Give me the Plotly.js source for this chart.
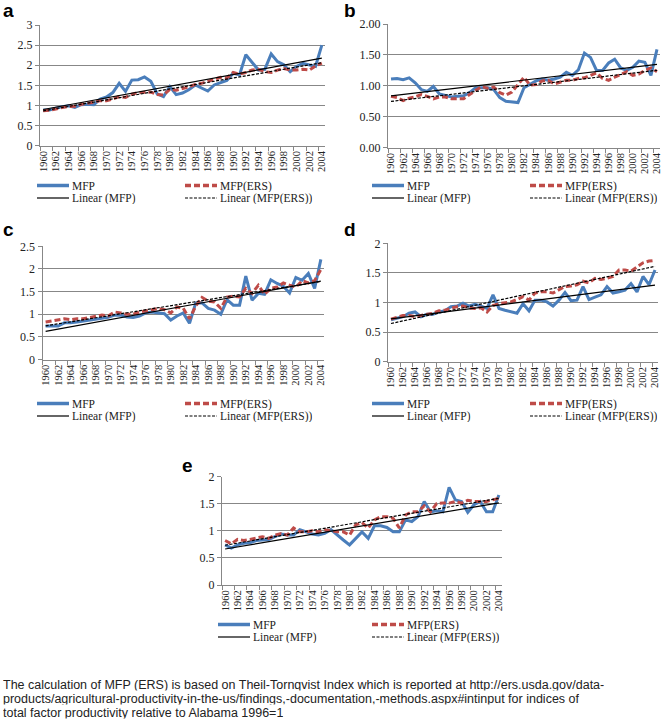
<!DOCTYPE html>
<html><head><meta charset="utf-8">
<script src="https://cdn.plot.ly/plotly-3.0.1.min.js"></script>
<style>html,body{margin:0;padding:0;background:#fff;}#chart{width:661px;height:719px;}</style>
</head><body><div id="chart"></div>
<script>
const years = ["1960","1961","1962","1963","1964","1965","1966","1967","1968","1969","1970","1971","1972","1973","1974","1975","1976","1977","1978","1979","1980","1981","1982","1983","1984","1985","1986","1987","1988","1989","1990","1991","1992","1993","1994","1995","1996","1997","1998","1999","2000","2001","2002","2003","2004"];

const mfpA = [0.89,0.89,0.93,0.97,0.99,0.95,1.02,1.03,1.02,1.16,1.21,1.32,1.55,1.35,1.63,1.64,1.71,1.60,1.29,1.22,1.47,1.27,1.31,1.39,1.51,1.43,1.36,1.51,1.57,1.62,1.80,1.76,2.26,2.07,1.88,1.90,2.28,2.09,2.01,1.84,1.97,2.05,2.01,1.97,2.50];
const ersA = [0.87,0.88,0.91,0.95,0.97,0.98,1.03,1.05,1.08,1.12,1.12,1.16,1.22,1.20,1.28,1.32,1.33,1.33,1.27,1.26,1.40,1.38,1.42,1.46,1.52,1.55,1.60,1.65,1.70,1.68,1.82,1.78,1.82,1.88,1.90,1.84,1.82,1.88,1.92,1.88,1.88,1.90,1.88,1.98,2.05];

const mfpB = [1.11,1.12,1.10,1.13,1.05,0.94,0.91,0.99,0.87,0.84,0.82,0.83,0.84,0.89,0.97,0.97,0.97,0.94,0.81,0.75,0.74,0.73,0.97,1.03,1.08,1.11,1.09,1.11,1.14,1.22,1.17,1.26,1.53,1.46,1.25,1.25,1.37,1.43,1.29,1.25,1.30,1.40,1.38,1.17,1.59];
const ersB = [0.83,0.81,0.76,0.80,0.82,0.86,0.83,0.79,0.82,0.82,0.79,0.79,0.79,0.86,0.92,0.99,0.96,0.98,0.89,0.85,0.90,1.02,1.14,1.01,1.02,1.08,1.09,1.03,1.06,1.09,1.09,1.12,1.13,1.17,1.21,1.12,1.09,1.14,1.18,1.23,1.17,1.19,1.25,1.29,1.23];

const mfpC = [0.74,0.74,0.74,0.81,0.81,0.83,0.85,0.87,0.88,0.90,0.93,0.98,0.98,0.94,0.93,0.96,1.03,1.05,1.03,1.01,0.87,0.96,1.03,0.80,1.25,1.25,1.13,1.09,1.00,1.32,1.20,1.20,1.84,1.31,1.46,1.44,1.76,1.68,1.62,1.47,1.81,1.75,1.90,1.57,2.21];
const ersC = [0.83,0.85,0.87,0.90,0.88,0.90,0.90,0.93,0.96,0.98,0.96,1.05,1.03,1.00,1.00,1.05,1.07,1.10,1.13,1.10,1.03,1.16,1.13,0.90,1.18,1.37,1.29,1.27,1.13,1.38,1.40,1.38,1.57,1.46,1.64,1.44,1.57,1.60,1.69,1.64,1.60,1.74,1.69,1.74,1.99];

const mfpD = [0.71,0.74,0.76,0.82,0.84,0.76,0.80,0.80,0.84,0.86,0.93,0.94,0.99,0.94,0.97,0.94,0.90,1.13,0.90,0.87,0.84,0.82,0.98,0.86,1.04,1.04,1.01,0.94,1.04,1.17,1.03,1.04,1.27,1.05,1.09,1.13,1.27,1.16,1.18,1.21,1.32,1.18,1.44,1.30,1.55];
const ersD = [0.72,0.75,0.78,0.78,0.76,0.78,0.80,0.82,0.86,0.87,0.90,0.93,0.94,0.91,0.90,0.91,0.84,0.95,0.98,0.99,1.01,1.05,1.10,1.04,1.16,1.18,1.18,1.16,1.21,1.27,1.28,1.30,1.36,1.33,1.41,1.39,1.41,1.44,1.55,1.55,1.53,1.60,1.67,1.70,1.71];

const mfpE = [0.74,0.68,0.74,0.77,0.78,0.82,0.83,0.84,0.89,0.94,0.92,0.92,1.02,0.98,0.94,0.92,0.95,1.02,0.92,0.83,0.74,0.86,0.98,0.86,1.09,1.09,1.06,0.98,0.98,1.20,1.17,1.26,1.54,1.35,1.37,1.35,1.80,1.57,1.54,1.34,1.48,1.54,1.35,1.35,1.66];
const ersE = [0.82,0.76,0.84,0.82,0.84,0.86,0.89,0.86,0.92,0.95,0.92,1.05,0.98,0.98,1.00,0.98,1.02,1.00,0.98,0.98,0.92,1.11,1.15,1.05,1.20,1.26,1.26,1.23,1.05,1.29,1.35,1.35,1.46,1.35,1.50,1.51,1.51,1.54,1.51,1.56,1.54,1.54,1.54,1.57,1.60];

const legendNames = ["MFP","MFP(ERS)","Linear (MFP)","Linear (MFP(ERS))"];
const panelLetters = ["a","b","c","d","e"];
const footnoteLines = [
  "The calculation of MFP (ERS) is based on Theil-Tornqvist Index which is reported at http://ers.usda.gov/data-",
  "products/agricultural-productivity-in-the-us/findings,-documentation,-methods.aspx#intinput for indices of",
  "total factor productivity relative to Alabama 1996=1"
];

const W = 661, H = 719;
const fx = x => x / W;
const fy = y => 1 - y / H;

const BLUE = "#4a7ebb", RED = "#be4b48", GRID = "#878787";
const SERIF = "Liberation Serif, Times New Roman, serif";
const SANS = "Liberation Sans, Arial, sans-serif";

const panels = [
  {mfp: mfpA, ers: ersA, x0: 40, x1: 325, y0: 25, y1: 145.7, ymax: 3, fmt: "", lab: [1, 0], leg: {r1: 185.5, r2: 198, c1: 37, c2: 185}},
  {mfp: mfpB, ers: ersB, x0: 388, x1: 660, y0: 24, y1: 147.7, ymax: 2, fmt: ".2f", lab: [342, 0], leg: {r1: 185.5, r2: 198, c1: 372, c2: 530}},
  {mfp: mfpC, ers: ersC, x0: 42.5, x1: 324, y0: 246.3, y1: 359.5, ymax: 2.5, fmt: "", lab: [1, 219], leg: {r1: 403.5, r2: 416, c1: 37, c2: 185}},
  {mfp: mfpD, ers: ersD, x0: 388, x1: 658, y0: 243.3, y1: 361.7, ymax: 2, fmt: "", lab: [342, 219], leg: {r1: 403.5, r2: 416, c1: 372, c2: 530}},
  {mfp: mfpE, ers: ersE, x0: 222, x1: 502, y0: 476.5, y1: 585, ymax: 2, fmt: "", lab: [180, 455], leg: {r1: 624.5, r2: 637, c1: 218, c2: 372}}
];

function fitEnds(v) {
  const n = v.length;
  let sx = 0, sy = 0, sxx = 0, sxy = 0;
  for (let i = 0; i < n; i++) { sx += i; sy += v[i]; sxx += i * i; sxy += i * v[i]; }
  const m = (n * sxy - sx * sy) / (n * sxx - sx * sx);
  const b = (sy - m * sx) / n;
  return [b, b + m * (n - 1)];
}

const data = [], shapes = [], annotations = [];
const layout = {
  width: W, height: H, margin: {l: 0, r: 0, t: 0, b: 0},
  paper_bgcolor: "#fff", plot_bgcolor: "#fff", showlegend: false,
  font: {family: SERIF, color: "#222"}
};

panels.forEach((p, k) => {
  const s = k === 0 ? "" : String(k + 1);
  const xa = "x" + s, ya = "y" + s;
  data.push({x: years, y: p.mfp, xaxis: xa, yaxis: ya, type: "scatter", mode: "lines", name: legendNames[0], line: {color: BLUE, width: 3}});
  data.push({x: years, y: p.ers, xaxis: xa, yaxis: ya, type: "scatter", mode: "lines", name: legendNames[1], line: {color: RED, width: 3, dash: "6px,3px"}});
  const f1 = fitEnds(p.mfp), f2 = fitEnds(p.ers);
  data.push({x: [years[0], years[years.length - 1]], y: f1, xaxis: xa, yaxis: ya, type: "scatter", mode: "lines", name: legendNames[2], line: {color: "#000", width: 1.2}});
  data.push({x: [years[0], years[years.length - 1]], y: f2, xaxis: xa, yaxis: ya, type: "scatter", mode: "lines", name: legendNames[3], line: {color: "#000", width: 1.2, dash: "3px,1.5px"}});

  layout["xaxis" + s] = {
    domain: [fx(p.x0), fx(p.x1)], anchor: ya, type: "category",
    range: [-0.5, years.length - 0.5], tick0: 0, dtick: 2, tickangle: -90,
    tickfont: {size: 10.5, family: SERIF, color: "#222"},
    showline: true, linecolor: GRID, linewidth: 1, showgrid: false,
    ticks: "outside", ticklen: 4, tickcolor: GRID, tickson: "boundaries", zeroline: false, fixedrange: true
  };
  layout["yaxis" + s] = {
    domain: [fy(p.y1), fy(p.y0)], anchor: xa, range: [0, p.ymax], dtick: 0.5,
    tickformat: p.fmt, tickfont: {size: 12, family: SERIF, color: "#222"},
    showline: true, linecolor: GRID, linewidth: 1, showgrid: true, gridcolor: GRID, gridwidth: 1,
    ticks: "outside", ticklen: 4, tickcolor: GRID, zeroline: false, fixedrange: true
  };

  annotations.push({xref: "paper", yref: "paper", x: fx(p.lab[0]), y: fy(p.lab[1]), xanchor: "left", yanchor: "top",
    height: 17, valign: "middle", text: "<b>" + panelLetters[k] + "</b>", showarrow: false,
    font: {family: SANS, size: 19, color: "#000"}});

  const L = p.leg, len = 32;
  const sampleDefs = [
    {c: L.c1, r: L.r1, line: {color: BLUE, width: 3.5}},
    {c: L.c2, r: L.r1, line: {color: RED, width: 3.5, dash: "6px,3px"}},
    {c: L.c1, r: L.r2, line: {color: "#000", width: 1.2}},
    {c: L.c2, r: L.r2, line: {color: "#000", width: 1.2, dash: "3px,1.5px"}}
  ];
  sampleDefs.forEach((d, i) => {
    shapes.push({type: "line", xref: "paper", yref: "paper", x0: fx(d.c), x1: fx(d.c + len), y0: fy(d.r), y1: fy(d.r), line: d.line});
    annotations.push({xref: "paper", yref: "paper", x: fx(d.c + len + 1), y: fy(d.r), xanchor: "left", yanchor: "middle",
      height: 12, valign: "middle", text: legendNames[i], showarrow: false, font: {family: SERIF, size: 11.5, color: "#222"}});
  });
});

const footY = [684.5, 698.5, 712.5];
footnoteLines.forEach((t, i) => {
  annotations.push({xref: "paper", yref: "paper", x: fx(1), y: fy(footY[i]), xanchor: "left", yanchor: "middle", align: "left",
    height: 11.5, valign: "middle", text: t, showarrow: false, font: {family: SANS, size: 12.5, color: "#222"}});
});

layout.shapes = shapes;
layout.annotations = annotations;

Plotly.newPlot("chart", data, layout, {staticPlot: true, displayModeBar: false});
</script></body></html>
